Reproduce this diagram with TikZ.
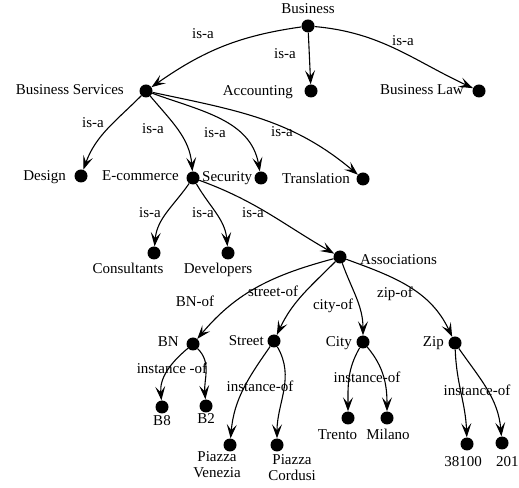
\documentclass[tikz,border=0pt]{standalone}
\usepackage{fontspec}
\setmainfont{Liberation Serif}
\usetikzlibrary{arrows.meta}
\begin{document}
\begin{tikzpicture}[x=1pt,y=1pt,
  dot/.style={circle,fill=black,inner sep=0pt,minimum size=13pt},
  lbl/.style={inner sep=0pt,font=\fontsize{15}{16}\selectfont},
  arr/.style={line width=1.1pt,-{Stealth[length=14pt,width=10pt,inset=6pt]}}]
\useasboundingbox (0,0) rectangle (519,487);
% dots
\node[dot] (bus) at (308,461) {};
\node[dot] (acc) at (311,396) {};
\node[dot] (law) at (479,396) {};
\node[dot] (bs) at (146,396) {};
\node[dot] (des) at (81,311) {};
\node[dot] (ecom) at (193,309) {};
\node[dot] (sec) at (261,309) {};
\node[dot] (tra) at (363,308) {};
\node[dot] (con) at (154,234) {};
\node[dot] (dev) at (228,234) {};
\node[dot] (ass) at (340,230) {};
\node[dot] (bn) at (193,143) {};
\node[dot] (str) at (274,146) {};
\node[dot] (city) at (363,145) {};
\node[dot] (zip) at (455,144) {};
\node[dot] (b8) at (162,80) {};
\node[dot] (b2) at (206,81) {};
\node[dot] (pv) at (230,42) {};
\node[dot] (pc) at (277,42) {};
\node[dot] (tre) at (348,69) {};
\node[dot] (mil) at (387,69) {};
\node[dot] (za) at (467,43) {};
\node[dot] (zb) at (502,44) {};
% node labels
\node[lbl,anchor=base] (tbus) at (308,473) {Business};
\node[lbl,anchor=base east] (tbs) at (124,392) {Business Services};
\node[lbl,anchor=base east] (tacc) at (293,391) {Accounting};
\node[lbl,anchor=base east] (tlaw) at (464,392) {Business Law};
\node[lbl,anchor=base east] (tdes) at (66,306) {Design};
\node[lbl,anchor=base east] (tecom) at (179,306) {E-commerce};
\node[lbl,anchor=base west] (tsec) at (202,305) {Security};
\node[lbl,anchor=base east] (ttra) at (350,303) {Translation};
\node[lbl,anchor=base] (tcon) at (128,213) {Consultants};
\node[lbl,anchor=base] (tdev) at (218,213) {Developers};
\node[lbl,anchor=base west] (tass) at (360,222) {Associations};
\node[lbl,anchor=base east] (tbn) at (179,140) {BN};
\node[lbl,anchor=base east] (tstr) at (264,141) {Street};
\node[lbl,anchor=base east] (tcity) at (352,140) {City};
\node[lbl,anchor=base east] (tzip) at (444,140) {Zip};
\node[lbl,anchor=base] (tb8) at (162,61) {B8};
\node[lbl,anchor=base] (tb2) at (206,63) {B2};
\node[lbl,align=center] (tpv) at (217,22) {Piazza\\Venezia};
\node[lbl,align=center] (tpc) at (292,19.5) {Piazza\\Cordusi};
\node[lbl,anchor=base] (ttre) at (337.5,47) {Trento};
\node[lbl,anchor=base] (tmil) at (388,47) {Milano};
\node[lbl,anchor=base] (tza) at (463,20) {38100};
\node[lbl,anchor=base west] (tzb) at (496,20) {20121};
% edge labels
\node[lbl,anchor=base] (e1) at (203,448) {is-a};
\node[lbl,anchor=base] (e2) at (285,428) {is-a};
\node[lbl,anchor=base] (e3) at (403,441) {is-a};
\node[lbl,anchor=base] (e4) at (93,359) {is-a};
\node[lbl,anchor=base] (e5) at (153,353) {is-a};
\node[lbl,anchor=base] (e6) at (215,349) {is-a};
\node[lbl,anchor=base] (e7) at (282,350) {is-a};
\node[lbl,anchor=base] (e8) at (150,269) {is-a};
\node[lbl,anchor=base] (e9) at (203,269) {is-a};
\node[lbl,anchor=base] (e10) at (253,269) {is-a};
\node[lbl,anchor=base] (e11) at (195,180) {BN-of};
\node[lbl,anchor=base] (e12) at (273,190) {street-of};
\node[lbl,anchor=base] (e13) at (333,177) {city-of};
\node[lbl,anchor=base] (e14) at (395,189) {zip-of};
\node[lbl,anchor=base] (e15) at (172,113) {instance -of};
\node[lbl,anchor=base] (e16) at (260,95) {instance-of};
\node[lbl,anchor=base] (e17) at (367,104) {instance-of};
\node[lbl,anchor=base] (e18) at (477,91) {instance-of};
% connectors
\draw[arr] (bus) to[out=188,in=35] (bs);
\draw[arr] (bus) -- (acc);
\draw[arr] (bus) to[out=-5,in=155] (law);
\draw[arr] (bs) to[out=-135,in=70] (des);
\draw[arr] (bs) to[out=-50,in=95] (ecom);
\draw[arr] (bs) to[out=-20,in=100] (sec);
\draw[arr] (bs) to[out=-12,in=140] (tra);
\draw[arr] (ecom) to[out=-125,in=85] (con);
\draw[arr] (ecom) to[out=-60,in=95] (dev);
\draw[arr] (ecom) to[out=-20,in=150] (ass);
\draw[arr] (ass) to[out=195,in=50] (bn);
\draw[arr] (ass) to[out=-135,in=65] (str);
\draw[arr] (ass) to[out=-70,in=90] (city);
\draw[arr] (ass) to[out=-20,in=115] (zip);
\draw[arr] (bn) to[out=-140,in=95] (b8);
\draw[arr] (bn) to[out=-45,in=95] (b2);
\draw[arr] (str) to[out=-125,in=85] (pv);
\draw[arr] (str) to[out=-60,in=90] (pc);
\draw[arr] (city) to[out=-120,in=90] (tre);
\draw[arr] (city) to[out=-50,in=90] (mil);
\draw[arr] (zip) to[out=-88,in=92] (za);
\draw[arr] (zip) to[out=-55,in=95] (zb);
\end{tikzpicture}
\end{document}
